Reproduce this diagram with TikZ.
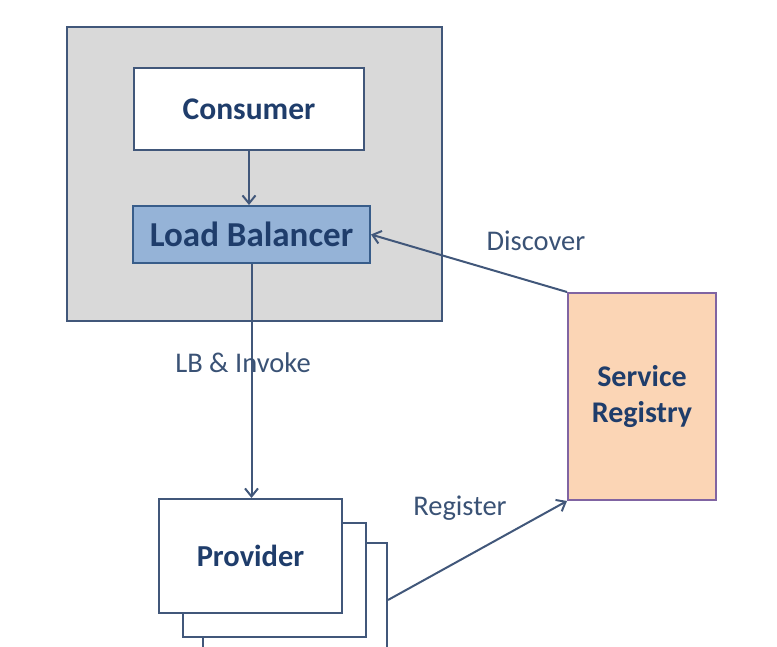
\documentclass[tikz,border=0pt]{standalone}
\usepackage{fontspec}
\setmainfont{Carlito}
\usetikzlibrary{arrows.meta}
\definecolor{lineC}{HTML}{41577A}
\definecolor{grayF}{HTML}{D9D9D9}
\definecolor{lbF}{HTML}{95B3D7}
\definecolor{lbD}{HTML}{385D8A}
\definecolor{srF}{HTML}{FBD5B5}
\definecolor{srD}{HTML}{8064A2}
\definecolor{txtB}{HTML}{1F3D6B}
\definecolor{txtL}{HTML}{3A5275}
\tikzset{
  box/.style={draw=lineC, line width=2pt, fill=white, inner sep=0pt, text=txtB,
    font=\fontsize{30.5}{36}\selectfont\bfseries, align=center},
  lbl/.style={text=txtL, font=\fontsize{28.5}{32}\selectfont, inner sep=0pt},
  conn/.style={draw=lineC, line width=2pt, -{Straight Barb[length=8pt,width=13pt,line width=2pt]}},
}
\begin{document}
\begin{tikzpicture}[x=1pt,y=-1pt]
\useasboundingbox (0,0) rectangle (777,646);
\clip (0,0) rectangle (777,646);
\node[box, fill=grayF, minimum width=375pt, minimum height=294pt] (outer) at (254.5,174) {};
\node[box, minimum width=230pt, minimum height=82pt, font=\fontsize{31.5}{36}\selectfont\bfseries] (cons) at (249,109) {Consumer};
\node[box, fill=lbF, draw=lbD, minimum width=237pt, minimum height=57pt,
  font=\fontsize{35}{40}\selectfont\bfseries] (lb) at (251.5,234.5) {Load Balancer};
\node[box, minimum width=184pt, minimum height=114pt] (p3) at (295,600) {};
\node[box, minimum width=183pt, minimum height=114pt] (p2) at (274.5,580) {};
\node[box, minimum width=183pt, minimum height=114pt] (prov) at (250.5,556) {Provider};
\node[box, fill=srF, draw=srD, minimum width=148pt, minimum height=207pt,
  font=\fontsize{30}{35.5}\selectfont\bfseries] (sr) at (642,396.5) {Service\\Registry};
\draw[conn] (cons.south) -- (cons.south |- lb.north);
\draw[conn] (lb.south) -- (lb.south |- prov.north);
\draw[conn] (sr.north west) -- (lb.east);
\draw[conn] (p3.east) -- (sr.south west);
\node[lbl] (ldisc) at (536,241) {Discover};
\node[lbl] (linv) at (243,363) {LB \& Invoke};
\node[lbl] (lreg) at (460,508) {Register};
\end{tikzpicture}
\end{document}
